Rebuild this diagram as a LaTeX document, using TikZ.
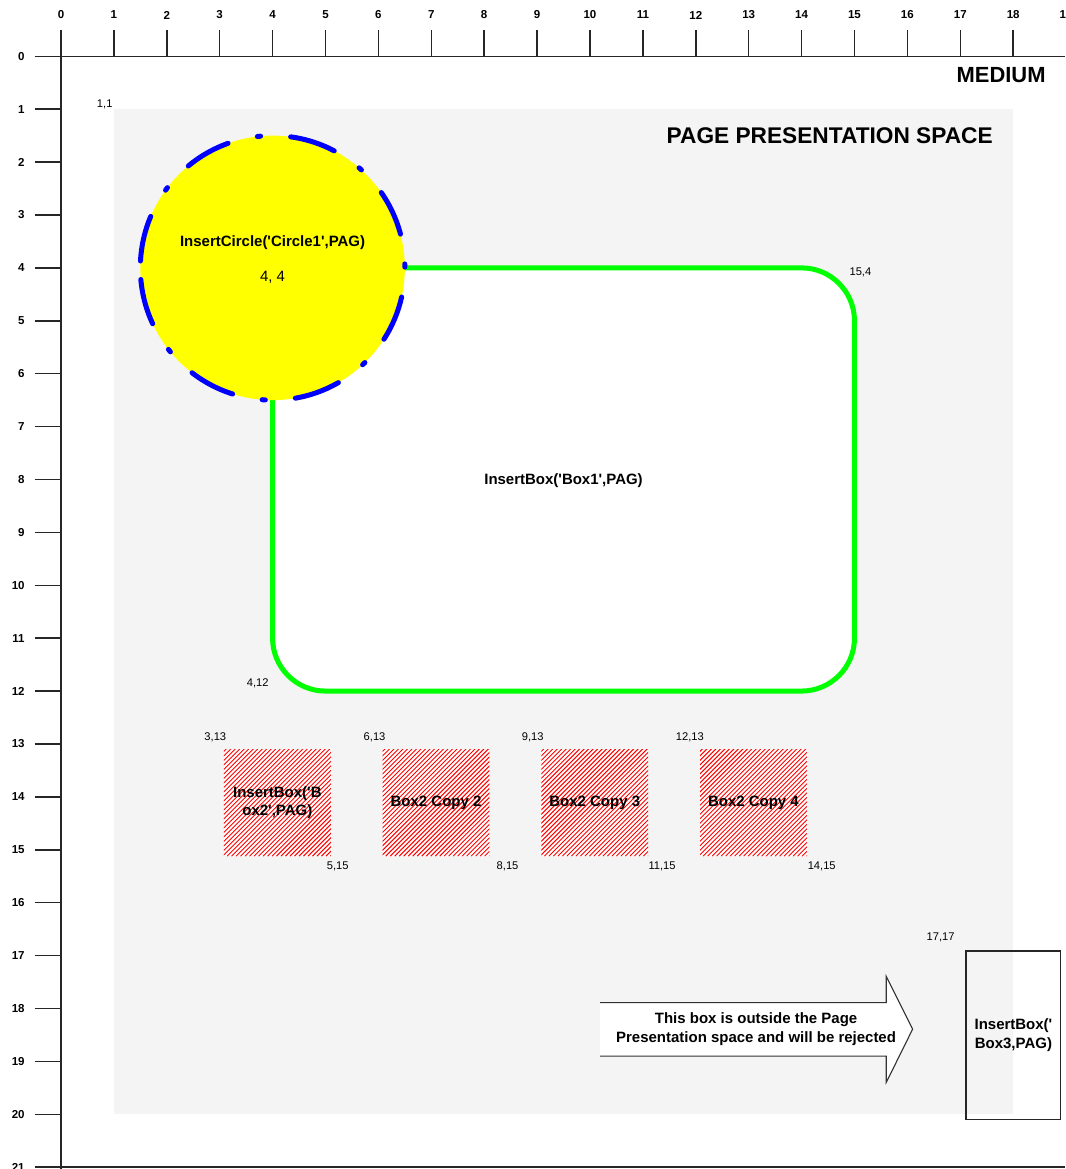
\documentclass[tikz,border=0pt]{standalone}
\usepackage{fontspec}
\setmainfont{Liberation Sans}[Ligatures=TeXOff]
\definecolor{pagegray}{RGB}{244,244,244}
\definecolor{boxgreen}{RGB}{0,255,0}
\definecolor{circblue}{RGB}{0,0,255}
\definecolor{circyellow}{RGB}{255,255,0}
\definecolor{hatchred}{RGB}{255,0,0}
\begin{document}
\begin{tikzpicture}[x=1cm,y=-1cm,
  rulerline/.style={line width=0.8pt, black!85},
  rulerlab/.style={font=\fontsize{6.2}{7}\selectfont\bfseries, inner sep=0pt},
  coordlab/.style={font=\fontsize{6}{7}\selectfont, inner sep=0pt},
  boxlab/.style={font=\fontsize{8.06}{9.83}\selectfont\bfseries, inner sep=0pt, align=center},
  titlelab/.style={font=\fontsize{11.8}{14}\selectfont\bfseries, inner sep=0pt},
  hatchbox/.style={minimum size=2.02cm, boxlab, fill=white, path picture={
     \foreach \hx in {-2.15,-2.065,...,2.1}
       \draw[hatchred, line width=0.5pt]
         ([xshift=\hx cm]path picture bounding box.south west) -- ++(2.2cm,2.2cm);}},
]
% canvas
\useasboundingbox (-1.153,-1.064) rectangle (18.98,21.035);
\clip (-1.153,-1.064) rectangle (18.98,21.035);
\fill[white] (-1.153,-1.064) rectangle (18.98,21.035);

% page presentation space
\fill[pagegray] (1,1) rectangle (18,20);

% rulers
\draw[rulerline] (-0.497,0) -- (18.98,0);
\draw[rulerline] (0,-0.497) -- (0,21.035);
\draw[rulerline] (-0.497,21) -- (18.98,21);
\foreach \i in {1,...,18} \draw[rulerline] (\i,-0.497) -- (\i,0);
\foreach \i in {0,...,19} \node[rulerlab] (tx\i) at (\i,-0.78) {\i};
\foreach \j in {1,...,20} \draw[rulerline] (-0.497,\j) -- (0,\j);
\foreach \j in {0,...,21} \node[rulerlab, anchor=east] (ty\j) at (-0.68,\j) {\j};

% titles
\node[titlelab, anchor=base east] (medium) at (18.62,0.50) {MEDIUM};
\node[titlelab, font=\fontsize{12.2}{14}\selectfont\bfseries, anchor=base east] (pps) at (17.62,1.64) {PAGE PRESENTATION SPACE};
\node[coordlab, anchor=base east] (c11) at (0.98,0.96) {1,1};

% Box1
\draw[line width=2.7pt, boxgreen, fill=white, rounded corners=1cm] (4,4) rectangle (15,12);
\node[boxlab, anchor=base] (box1t) at (9.5,8.1) {InsertBox('Box1',PAG)};
\node[coordlab, anchor=base west] (c154) at (14.9,4.15) {15,4};
\node[coordlab, anchor=base east] (c412) at (3.93,11.92) {4,12};

% Circle1
\fill[circyellow] (4,4) circle[radius=2.5];
\draw[circblue, line width=2.7pt, line cap=round,
      dash pattern=on 0.87cm off 0.57cm on 0.06cm off 0.57cm, dash phase=1.85cm]
  (1.5,4) arc[start angle=180, end angle=-180, radius=2.5];
\node[boxlab, anchor=base] (circt) at (4,3.6) {InsertCircle('Circle1',PAG)};
\node[font=\fontsize{8.06}{9.83}\selectfont, inner sep=0pt, anchor=base] (circc) at (4,4.26) {4, 4};

% Box2 and its copies
\node[hatchbox] (b2a) at (4.09,14.11) {InsertBox('B\\ox2',PAG)};
\node[hatchbox] (b2b) at (7.09,14.11) {Box2 Copy 2};
\node[hatchbox] (b2c) at (10.09,14.11) {Box2 Copy 3};
\node[hatchbox] (b2d) at (13.09,14.11) {Box2 Copy 4};
\node[coordlab, anchor=base east] (c313) at (3.13,12.93) {3,13};
\node[coordlab, anchor=base east] (c613) at (6.14,12.93) {6,13};
\node[coordlab, anchor=base east] (c913) at (9.13,12.93) {9,13};
\node[coordlab, anchor=base east] (c1213) at (12.16,12.93) {12,13};
\node[coordlab, anchor=base west] (c515) at (5.02,15.38) {5,15};
\node[coordlab, anchor=base west] (c815) at (8.23,15.38) {8,15};
\node[coordlab, anchor=base west] (c1115) at (11.1,15.38) {11,15};
\node[coordlab, anchor=base west] (c1415) at (14.11,15.38) {14,15};

% rejection note
\path[fill=white, draw=black!80, line width=0.6pt]
  (10.19,17.89) -- (15.6,17.89) -- (15.6,17.39) -- (16.1,18.39)
  -- (15.6,19.4) -- (15.6,18.9) -- (10.19,18.9);
\node[boxlab] (arrt) at (13.14,18.39) {This box is outside the Page\\Presentation space and will be rejected};

% Box3
\node[draw=black!85, line width=0.75pt, minimum width=1.79cm, minimum height=3.19cm, boxlab]
  (box3) at (18.005,18.505) {InsertBox('\\Box3,PAG)};
\node[coordlab, anchor=base east] (c1717) at (16.9,16.71) {17,17};
\end{tikzpicture}
\end{document}
